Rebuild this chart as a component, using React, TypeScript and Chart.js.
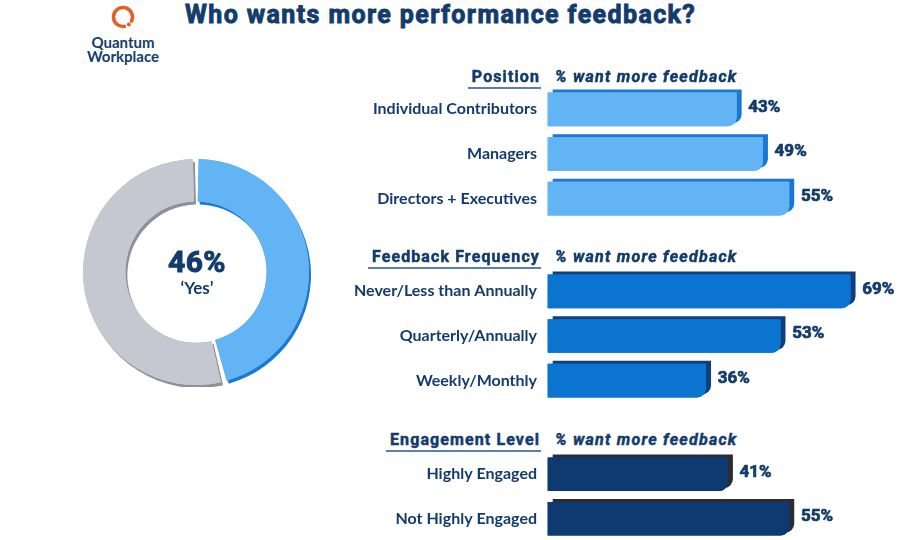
import React, { useEffect, useRef } from "react";
import { Chart, registerables } from "chart.js";

Chart.register(...registerables);

const NAVY = "#133c6d";
const FONT = "Lato, 'Open Sans', sans-serif";
const HEAVY = "Roboto, 'Open Sans', sans-serif";

const donutLabels = ["Yes", "No"];
const donutValues = [46, 54];

const positionLabels = ["Individual Contributors", "Managers", "Directors + Executives"];
const positionValues = [43, 49, 55];

const frequencyLabels = ["Never/Less than Annually", "Quarterly/Annually", "Weekly/Monthly"];
const frequencyValues = [69, 53, 36];

const engagementLabels = ["Highly Engaged", "Not Highly Engaged"];
const engagementValues = [41, 55];

const hardShadowPlugin = {
  id: "hardShadow",
  beforeDatasetDraw(chart: any, args: any, opts: any) {
    const ctx = chart.ctx;
    const ds: any = chart.data.datasets[args.index];
    const shadows: string[] = ds.shadowColors || ["rgba(0,0,0,0.3)"];
    const els = args.meta.data;
    els.forEach((el: any, i: number) => {
      ctx.save();
      ctx.shadowColor = shadows[i % shadows.length];
      ctx.shadowBlur = 0;
      ctx.shadowOffsetX = opts.dx;
      ctx.shadowOffsetY = opts.dy;
      el.draw(ctx, chart.chartArea);
      ctx.restore();
    });
    els.forEach((el: any) => {
      ctx.save();
      el.draw(ctx, chart.chartArea);
      ctx.restore();
    });
    return false;
  },
};

const valueLabelPlugin = {
  id: "valueLabels",
  afterDatasetsDraw(chart: any, _args: any, opts: any) {
    const ctx = chart.ctx;
    const meta = chart.getDatasetMeta(0);
    const data = chart.data.datasets[0].data as number[];
    ctx.save();
    ctx.font = `bold 17px ${HEAVY}`;
    ctx.fillStyle = NAVY;
    ctx.strokeStyle = NAVY;
    ctx.lineWidth = 0.7;
    ctx.lineJoin = "round";
    ctx.textAlign = "left";
    ctx.textBaseline = "middle";
    meta.data.forEach((el: any, i: number) => {
      const t = `${data[i]}%`;
      ctx.fillText(t, el.x + opts.offset, el.y + opts.dy);
      ctx.strokeText(t, el.x + opts.offset, el.y + opts.dy);
    });
    ctx.restore();
  },
};

type BarProps = {
  labels: string[];
  values: number[];
  color: string;
  shadow: string;
  top: number;
  height: number;
};

const CANVAS_LEFT = 330;
const AXIS_W = 218; // chart area starts at x = 548

function BarGroup({ labels, values, color, shadow, top, height }: BarProps) {
  const ref = useRef<HTMLCanvasElement | null>(null);
  useEffect(() => {
    if (!ref.current) return;
    const chart = new Chart(ref.current, {
      type: "bar",
      data: {
        labels,
        datasets: [
          {
            data: values,
            backgroundColor: color,
            shadowColors: [shadow],
            barThickness: 33,
            borderRadius: { topLeft: 0, topRight: 0, bottomLeft: 0, bottomRight: 9 },
            borderSkipped: false,
            borderWidth: 0,
          } as any,
        ],
      },
      options: {
        indexAxis: "y",
        animation: false,
        responsive: false,
        maintainAspectRatio: false,
        layout: { autoPadding: false, padding: { top: 0, bottom: 0, left: 0, right: 1.6 } },
        scales: {
          x: { display: false, min: 0, max: 80 },
          y: {
            grid: { display: false, drawTicks: false },
            border: { display: false },
            ticks: {
              color: NAVY,
              padding: 11,
              font: { family: FONT, size: 16, weight: "bold" },
            },
            afterFit(s: any) {
              s.width = AXIS_W;
              s.paddingTop = 0;
              s.paddingBottom = 0;
            },
          },
        },
        plugins: {
          legend: { display: false },
          tooltip: { enabled: false },
          hardShadow: { dx: 5, dy: -3 },
          valueLabels: { offset: 12, dy: -2 },
        } as any,
      } as any,
      plugins: [hardShadowPlugin, valueLabelPlugin],
    });
    return () => chart.destroy();
  }, []);
  const w = 900 - CANVAS_LEFT;
  return (
    <canvas
      ref={ref}
      width={w}
      height={height}
      style={{ position: "absolute", left: CANVAS_LEFT, top, width: w, height }}
    />
  );
}

function Donut() {
  const ref = useRef<HTMLCanvasElement | null>(null);
  useEffect(() => {
    if (!ref.current) return;
    const chart = new Chart(ref.current, {
      type: "doughnut",
      data: {
        labels: donutLabels,
        datasets: [
          {
            data: donutValues,
            backgroundColor: ["#63b4f4", "#c6c7d1"],
            shadowColors: ["#1a78d4", "#8f909b"],
            borderWidth: 0,
            spacing: 3,
          } as any,
        ],
      },
      options: {
        animation: false,
        responsive: false,
        maintainAspectRatio: false,
        cutout: "62%",
        rotation: 0,
        layout: { padding: 2 },
        plugins: {
          legend: { display: false },
          tooltip: { enabled: false },
          hardShadow: { dx: 2, dy: 3 },
        } as any,
      },
      plugins: [hardShadowPlugin],
    });
    return () => chart.destroy();
  }, []);
  return (
    <canvas
      ref={ref}
      width={230}
      height={230}
      style={{ position: "absolute", left: 81, top: 157, width: 230, height: 230 }}
    />
  );
}

const heavyText = (size: number, ls: number, stroke: number, italic = false): React.CSSProperties => ({
  fontFamily: HEAVY,
  fontWeight: 700,
  fontStyle: italic ? "italic" : "normal",
  fontSize: size,
  letterSpacing: ls,
  WebkitTextStroke: `${stroke}px ${NAVY}`,
  color: NAVY,
  whiteSpace: "nowrap",
});

function Header({ title, y }: { title: string; y: number }) {
  return (
    <>
      <div
        style={{
          position: "absolute",
          right: 359,
          top: y - 10,
          lineHeight: "20px",
          paddingLeft: 4,
          paddingRight: 1,
          borderBottom: "2px solid #5b7fa8",
          ...heavyText(16, 1.1, 0.5),
        }}
      >
        {title}
      </div>
      <div
        style={{
          position: "absolute",
          left: 555,
          top: y - 10,
          lineHeight: "20px",
          ...heavyText(16, 1.25, 0.5, true),
        }}
      >
        % want more feedback
      </div>
    </>
  );
}

function Logo() {
  const cx = 123;
  const cy = 17;
  const r = 9.5;
  const p = (deg: number) => {
    const a = (deg * Math.PI) / 180;
    return `${cx + r * Math.cos(a)} ${cy + r * Math.sin(a)}`;
  };
  return (
    <>
      <svg width={200} height={40} style={{ position: "absolute", left: 0, top: 0 }}>
        <path
          d={`M ${p(82)} A ${r} ${r} 0 1 1 ${p(25)}`}
          fill="none"
          stroke="#e2612b"
          strokeWidth={3.6}
          strokeLinecap="round"
        />
        <circle cx={cx + 5.9} cy={cy + 7.6} r={2} fill="#e2612b" />
      </svg>
      <div
        style={{
          position: "absolute",
          left: 73,
          width: 100,
          top: 35,
          textAlign: "center",
          font: `bold 15px ${FONT}`,
          lineHeight: "14px",
          color: NAVY,
        }}
      >
        Quantum
        <br />
        Workplace
      </div>
    </>
  );
}

export default function App() {
  return (
    <div
      style={{
        position: "absolute",
        left: 0,
        top: 0,
        width: 900,
        height: 540,
        overflow: "hidden",
        background: "#ffffff",
        fontFamily: FONT,
      }}
    >
      <Logo />
      <div
        style={{
          position: "absolute",
          left: 185,
          top: 0,
          lineHeight: "30px",
          ...heavyText(25, 1.4, 0.9),
        }}
      >
        Who wants more performance feedback?
      </div>

      <Donut />
      <div
        style={{
          position: "absolute",
          left: 97,
          width: 200,
          top: 245,
          textAlign: "center",
          lineHeight: "34px",
          ...heavyText(30, 0.5, 1),
        }}
      >
        46%
      </div>
      <div
        style={{
          position: "absolute",
          left: 97,
          width: 200,
          top: 278,
          textAlign: "center",
          font: `bold 17px ${FONT}`,
          lineHeight: "20px",
          color: NAVY,
        }}
      >
        ‘Yes’
      </div>

      <BarGroup
        labels={positionLabels}
        values={positionValues}
        color="#63b4f4"
        shadow="#1a78d4"
        top={87}
        height={134}
      />
      <BarGroup
        labels={frequencyLabels}
        values={frequencyValues}
        color="#0b73d0"
        shadow="#0d3f7a"
        top={269}
        height={134}
      />
      <BarGroup
        labels={engagementLabels}
        values={engagementValues}
        color="#0d3a70"
        shadow="#2a2d33"
        top={452}
        height={89}
      />

      <Header title="Position" y={77} />
      <Header title="Feedback Frequency" y={257} />
      <Header title="Engagement Level" y={440} />
    </div>
  );
}
